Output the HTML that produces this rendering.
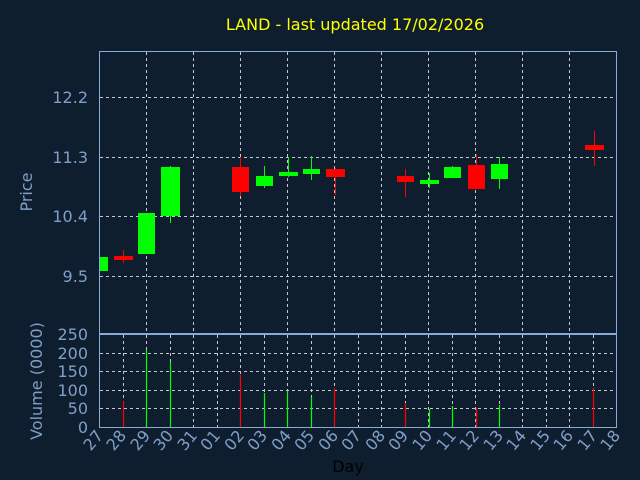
<!DOCTYPE html>
<html><head><meta charset="utf-8"><style>
html,body{margin:0;padding:0;background:#0f1e2f;}
svg{display:block;}
text{font-family:"DejaVu Sans","Liberation Sans",sans-serif;}
</style></head><body>
<svg width="640" height="480" viewBox="0 0 640 480" xmlns="http://www.w3.org/2000/svg">
<rect width="640" height="480" fill="#0f1e2f"/>
<text x="355" y="30" fill="#ffff00" font-size="16" text-anchor="middle">LAND - last updated 17/02/2026</text>
<defs><clipPath id="cp"><rect x="100" y="52" width="516" height="281"/></clipPath></defs>
<g stroke="#c8c8c8" stroke-width="1" stroke-dasharray="3,3" fill="none">
<path d="M100 97.5H616M100 157.5H616M100 216.5H616M100 276.5H616"/>
<path d="M146.5 52V333M193.5 52V333M240.5 52V333M287.5 52V333M334.5 52V333M381.5 52V333M428.5 52V333M475.5 52V333M522.5 52V333M569.5 52V333"/>
<path d="M100 408.5H616M100 390.5H616M100 371.5H616M100 353.5H616"/>
<path d="M123.5 335V427M146.5 335V427M170.5 335V427M193.5 335V427M217.5 335V427M240.5 335V427M264.5 335V427M287.5 335V427M311.5 335V427M334.5 335V427M358.5 335V427M381.5 335V427M405.5 335V427M428.5 335V427M452.5 335V427M475.5 335V427M499.5 335V427M522.5 335V427M546.5 335V427M569.5 335V427M593.5 335V427"/>
</g>
<g clip-path="url(#cp)">
<rect x="91" y="257" width="17" height="14" fill="#00ff00"/>
<line x1="123.5" y1="250" x2="123.5" y2="263" stroke="#ff0000"/><rect x="114" y="256" width="19" height="4" fill="#ff0000"/>
<rect x="138" y="213" width="17" height="41" fill="#00ff00"/>
<line x1="170.5" y1="166" x2="170.5" y2="223" stroke="#00ff00"/><rect x="161" y="167" width="19" height="49" fill="#00ff00"/>
<line x1="240.5" y1="157" x2="240.5" y2="196" stroke="#ff0000"/><rect x="232" y="167" width="17" height="25" fill="#ff0000"/>
<line x1="264.5" y1="166" x2="264.5" y2="188" stroke="#00ff00"/><rect x="256" y="176" width="17" height="10" fill="#00ff00"/>
<line x1="288.5" y1="157" x2="288.5" y2="177" stroke="#00ff00"/><rect x="279" y="172" width="19" height="4" fill="#00ff00"/>
<line x1="311.5" y1="156" x2="311.5" y2="180" stroke="#00ff00"/><rect x="303" y="169" width="17" height="5" fill="#00ff00"/>
<line x1="335.5" y1="168" x2="335.5" y2="195" stroke="#ff0000"/><rect x="326" y="169" width="19" height="8" fill="#ff0000"/>
<line x1="405.5" y1="169" x2="405.5" y2="197" stroke="#ff0000"/><rect x="397" y="176" width="17" height="6" fill="#ff0000"/>
<line x1="429.5" y1="173" x2="429.5" y2="188" stroke="#00ff00"/><rect x="420" y="180" width="19" height="4" fill="#00ff00"/>
<line x1="452.5" y1="166" x2="452.5" y2="178" stroke="#00ff00"/><rect x="444" y="167" width="17" height="11" fill="#00ff00"/>
<line x1="476.5" y1="154" x2="476.5" y2="189" stroke="#ff0000"/><rect x="468" y="165" width="17" height="24" fill="#ff0000"/>
<line x1="499.5" y1="157" x2="499.5" y2="189" stroke="#00ff00"/><rect x="491" y="164" width="17" height="15" fill="#00ff00"/>
<line x1="594.5" y1="131" x2="594.5" y2="166" stroke="#ff0000"/><rect x="585" y="145" width="19" height="5" fill="#ff0000"/>
</g>
<g stroke-width="1.2">
<line x1="123.5" y1="401" x2="123.5" y2="427" stroke="#ff0000"/>
<line x1="146.5" y1="350" x2="146.5" y2="427" stroke="#00ff00"/>
<line x1="170.5" y1="362" x2="170.5" y2="427" stroke="#00ff00"/>
<line x1="240.5" y1="375" x2="240.5" y2="427" stroke="#ff0000"/>
<line x1="264.5" y1="393" x2="264.5" y2="427" stroke="#00ff00"/>
<line x1="287.5" y1="391" x2="287.5" y2="427" stroke="#00ff00"/>
<line x1="311.5" y1="397" x2="311.5" y2="427" stroke="#00ff00"/>
<line x1="334.5" y1="388" x2="334.5" y2="427" stroke="#ff0000"/>
<line x1="405.5" y1="403" x2="405.5" y2="427" stroke="#ff0000"/>
<line x1="429.5" y1="409" x2="429.5" y2="427" stroke="#00ff00"/>
<line x1="452.5" y1="406" x2="452.5" y2="427" stroke="#00ff00"/>
<line x1="476.5" y1="408" x2="476.5" y2="427" stroke="#ff0000"/>
<line x1="499.5" y1="405" x2="499.5" y2="427" stroke="#00ff00"/>
<line x1="593.5" y1="388" x2="593.5" y2="427" stroke="#ff0000"/>
</g>
<g stroke="#88aad8" fill="none" stroke-width="1">
<rect x="99.5" y="51.5" width="517" height="282"/>
<rect x="99.5" y="334.5" width="517" height="93"/>
</g>
<g fill="#7f9fc8" font-size="16" text-anchor="end">
<text x="88" y="103">12.2</text><text x="88" y="163">11.3</text><text x="88" y="222">10.4</text><text x="88" y="282">9.5</text>
<text x="88" y="340">250</text><text x="88" y="359">200</text><text x="88" y="377">150</text><text x="88" y="396">100</text><text x="88" y="414">50</text><text x="88" y="433">0</text>
</g>
<text transform="translate(32,192) rotate(-90)" fill="#7f9fc8" font-size="16" text-anchor="middle">Price</text>
<text transform="translate(42,381) rotate(-90)" fill="#7f9fc8" font-size="16" text-anchor="middle">Volume (0000)</text>
<g fill="#7f9fc8" font-size="16" text-anchor="end">
<text transform="translate(104,436) rotate(-50)">27</text>
<text transform="translate(127,436) rotate(-50)">28</text>
<text transform="translate(151,436) rotate(-50)">29</text>
<text transform="translate(174,436) rotate(-50)">30</text>
<text transform="translate(198,436) rotate(-50)">31</text>
<text transform="translate(221,436) rotate(-50)">01</text>
<text transform="translate(245,436) rotate(-50)">02</text>
<text transform="translate(268,436) rotate(-50)">03</text>
<text transform="translate(292,436) rotate(-50)">04</text>
<text transform="translate(315,436) rotate(-50)">05</text>
<text transform="translate(339,436) rotate(-50)">06</text>
<text transform="translate(362,436) rotate(-50)">07</text>
<text transform="translate(386,436) rotate(-50)">08</text>
<text transform="translate(409,436) rotate(-50)">09</text>
<text transform="translate(433,436) rotate(-50)">10</text>
<text transform="translate(457,436) rotate(-50)">11</text>
<text transform="translate(480,436) rotate(-50)">12</text>
<text transform="translate(504,436) rotate(-50)">13</text>
<text transform="translate(527,436) rotate(-50)">14</text>
<text transform="translate(551,436) rotate(-50)">15</text>
<text transform="translate(574,436) rotate(-50)">16</text>
<text transform="translate(598,436) rotate(-50)">17</text>
<text transform="translate(621,436) rotate(-50)">18</text>
</g>
<text x="348" y="472" fill="#000000" font-size="16" text-anchor="middle">Day</text>
</svg>
</body></html>
